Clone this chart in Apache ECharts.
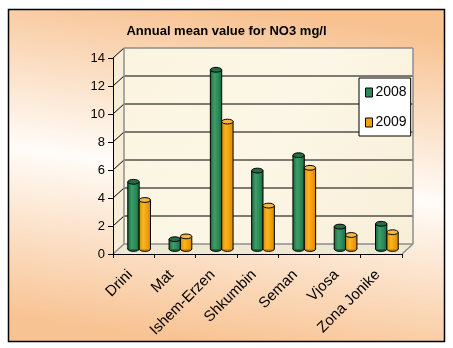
<!DOCTYPE html>
<html>
<head>
<meta charset="utf-8">
<script src="https://cdn.jsdelivr.net/npm/echarts@6/dist/echarts.min.js"></script>
<style>
  html, body { margin: 0; padding: 0; background: #ffffff; }
  #chart { width: 453px; height: 348px; }
</style>
</head>
<body>
<div id="chart"></div>
<script>
// River basins and their annual mean NO3 concentration (mg/l)
const categories = ['Drini', 'Mat', 'Ishem-Erzen', 'Shkumbin', 'Seman', 'Vjosa', 'Zona Jonike'];
const years = ['2008', '2009'];
const values2008 = [4.8, 0.7, 12.8, 5.6, 6.7, 1.6, 1.8];
const values2009 = [3.5, 0.9, 9.1, 3.1, 5.8, 1.0, 1.2];
const yTicks = [0, 2, 4, 6, 8, 10, 12, 14];

// pseudo-3D depth of the plot box, in pixels
const DEPTH_X = 11;
const DEPTH_Y = -10;

const ARIAL = '"Liberation Sans", Arial, sans-serif';

const palettes = [
  { base: '#2B8A58', dark: '#1C6640', light: '#3C9E69', top: '#226E47' },
  { base: '#F1A00A', dark: '#D98900', light: '#F9B525', top: '#F5B848' }
];

// back wall, side wall, floor and the gridlines drawn on them
function renderWall(params, api) {
  const cs = params.coordSys;
  const x0 = cs.x, x1 = cs.x + cs.width;
  const yAt = v => api.coord([0, v])[1];
  const yb = yAt(yTicks[0]);
  const yt = yAt(yTicks[yTicks.length - 1]);
  const edge = { stroke: '#8E8E8E', lineWidth: 1.5 };
  const kids = [
    { type: 'polygon', shape: { points: [[x0, yb], [x0 + DEPTH_X, yb + DEPTH_Y], [x0 + DEPTH_X, yt + DEPTH_Y], [x0, yt]] },
      style: { fill: '#F8EED6' } },
    { type: 'rect', shape: { x: x0 + DEPTH_X, y: yt + DEPTH_Y, width: x1 - x0, height: yb - yt },
      style: { fill: new echarts.graphic.LinearGradient(0, 0, 1, 1, [
        { offset: 0, color: '#FBF4E0' }, { offset: 0.5, color: '#FCF6E6' }, { offset: 1, color: '#F9EFD8' }]) } },
    { type: 'polygon', shape: { points: [[x0, yb], [x1, yb], [x1 + DEPTH_X, yb + DEPTH_Y], [x0 + DEPTH_X, yb + DEPTH_Y]] },
      style: { fill: '#EFE8D4' } }
  ];
  yTicks.forEach(v => {
    const y = yAt(v);
    if (v !== yTicks[0] && v !== yTicks[yTicks.length - 1]) {
      kids.push({ type: 'line', shape: { x1: x0 + DEPTH_X, y1: y + DEPTH_Y, x2: x1 + DEPTH_X, y2: y + DEPTH_Y },
        style: { stroke: '#000', lineWidth: 1 } });
    }
    kids.push({ type: 'line', shape: { x1: x0, y1: y, x2: x0 + DEPTH_X, y2: y + DEPTH_Y },
      style: v === yTicks[0] ? edge : { stroke: '#000', lineWidth: 1 } });
  });
  // outline of the box
  kids.push(
    { type: 'line', shape: { x1: x0 + DEPTH_X, y1: yt + DEPTH_Y, x2: x0 + DEPTH_X, y2: yb + DEPTH_Y }, style: edge },
    { type: 'line', shape: { x1: x0 + DEPTH_X, y1: yt + DEPTH_Y, x2: x1 + DEPTH_X, y2: yt + DEPTH_Y }, style: edge },
    { type: 'line', shape: { x1: x1 + DEPTH_X, y1: yt + DEPTH_Y, x2: x1 + DEPTH_X, y2: yb + DEPTH_Y }, style: edge },
    { type: 'line', shape: { x1: x0 + DEPTH_X, y1: yb + DEPTH_Y, x2: x1 + DEPTH_X, y2: yb + DEPTH_Y }, style: edge },
    { type: 'line', shape: { x1: x1, y1: yb, x2: x1 + DEPTH_X, y2: yb + DEPTH_Y }, style: edge }
  );
  return { type: 'group', children: kids };
}

// cylinders standing halfway into the box depth
function cylinder(seriesIndex) {
  const pal = palettes[seriesIndex];
  return function (params, api) {
    const idx = api.value(0);
    const val = api.value(1);
    const base = api.coord([idx, 0]);
    const top = api.coord([idx, val]);
    const band = api.size([1, 0])[0];
    const w = band * 0.275;
    const rx = w / 2, ry = 2.4;
    const cx = base[0] + DEPTH_X / 2 + (seriesIndex === 0 ? -rx : rx);
    const yb = base[1] + DEPTH_Y / 2;
    const yt = top[1] + DEPTH_Y / 2;
    const outline = { stroke: '#000', lineWidth: 1 };
    return {
      type: 'group',
      children: [
        { type: 'ellipse', shape: { cx: cx, cy: yb, rx: rx, ry: ry }, style: Object.assign({ fill: pal.dark }, outline) },
        { type: 'rect', shape: { x: cx - rx, y: yt, width: w, height: yb - yt },
          style: { fill: new echarts.graphic.LinearGradient(0, 0, 1, 0, [
            { offset: 0, color: pal.dark }, { offset: 0.35, color: pal.light },
            { offset: 0.7, color: pal.base }, { offset: 1, color: pal.dark }]) } },
        { type: 'line', shape: { x1: cx - rx, y1: yt, x2: cx - rx, y2: yb }, style: outline },
        { type: 'line', shape: { x1: cx + rx, y1: yt, x2: cx + rx, y2: yb }, style: outline },
        { type: 'ellipse', shape: { cx: cx, cy: yt, rx: rx, ry: ry }, style: Object.assign({ fill: pal.top }, outline) }
      ]
    };
  };
}

const chart = echarts.init(document.getElementById('chart'), null, { renderer: 'canvas' });

chart.setOption({
  backgroundColor: '#ffffff',
  animation: false,
  graphic: [{
    type: 'rect', z: -10, silent: true,
    shape: { x: 8.5, y: 9.5, width: 436, height: 332 },
    style: {
      fill: new echarts.graphic.LinearGradient(0.55, 0, 0.45, 1, [
        { offset: 0, color: '#F7C190' },
        { offset: 0.5, color: '#FFFCF8' },
        { offset: 1, color: '#F8C393' }]),
      stroke: '#000', lineWidth: 1.5
    }
  }],
  title: {
    text: 'Annual mean value for NO3 mg/l',
    left: 'center', top: 20,
    textStyle: { fontFamily: ARIAL, fontSize: 13, fontWeight: 'bold', color: '#000' }
  },
  legend: {
    data: years,
    orient: 'vertical',
    left: 359, top: 78,
    padding: [5, 4, 4, 6],
    itemGap: 11,
    itemWidth: 7, itemHeight: 9,
    icon: 'rect',
    backgroundColor: '#ffffff',
    borderColor: '#000', borderWidth: 1, borderRadius: 0,
    itemStyle: { borderColor: '#000', borderWidth: 1 },
    textStyle: { fontFamily: ARIAL, fontSize: 14, color: '#000', lineHeight: 19, padding: [0, 0, 0, -2] }
  },
  grid: { left: 113, top: 58, width: 289, height: 196 },
  xAxis: {
    type: 'category', data: categories, z: 5,
    axisLine: { lineStyle: { color: '#000', width: 1 } },
    axisTick: { show: true, length: 4, lineStyle: { color: '#000' } },
    axisLabel: { rotate: 45, margin: 15, interval: 0, padding: [0, 5, 0, 0],
      fontFamily: ARIAL, fontSize: 15, color: '#000' },
    splitLine: { show: false }
  },
  yAxis: {
    type: 'value', min: yTicks[0], max: yTicks[yTicks.length - 1], interval: 2, z: 5,
    axisLine: { show: true, lineStyle: { color: '#000', width: 1 } },
    axisTick: { show: true, length: 5, lineStyle: { color: '#000' } },
    axisLabel: { margin: 8, fontFamily: ARIAL, fontSize: 13, color: '#000' },
    splitLine: { show: false }
  },
  series: [
    { type: 'custom', name: 'wall', z: 1, silent: true, renderItem: renderWall, data: [[0, 0]] },
    { type: 'custom', name: years[0], z: 3, renderItem: cylinder(0),
      itemStyle: { color: palettes[0].base },
      encode: { x: 0, y: 1 },
      data: values2008.map((v, i) => [i, v]) },
    { type: 'custom', name: years[1], z: 3, renderItem: cylinder(1),
      itemStyle: { color: palettes[1].base },
      encode: { x: 0, y: 1 },
      data: values2009.map((v, i) => [i, v]) }
  ]
});
</script>
</body>
</html>
